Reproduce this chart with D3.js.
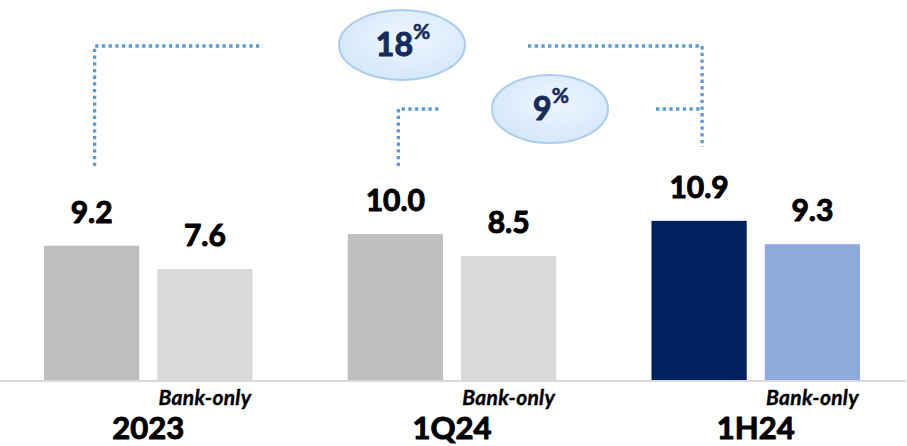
<!DOCTYPE html>
<html>
<head>
<meta charset="utf-8">
<script src="https://cdn.jsdelivr.net/npm/d3@7"></script>
<style>
  html, body { margin: 0; padding: 0; background: #ffffff; }
  svg { display: block; }
  text { font-family: Lato, "Open Sans", sans-serif; }
</style>
</head>
<body>
<svg id="chart" width="907" height="446"></svg>
<script>
// ---- data ----
const categories = ["2023", "1Q24", "1H24"];
const seriesKeys = ["Total", "Bank-only"];
const totalValues = [9.2, 10.0, 10.9];
const bankOnlyValues = [7.6, 8.5, 9.3];
const bankOnlyLabel = "Bank-only";
const growthFromIndex = [0, 1];      // brackets start at these categories
const growthToIndex = [2, 2];        // and end at these
const growthValues = ["18", "9"];
const growthUnit = "%";

// ---- styles ----
const totalColors = ["#BFBFBF", "#BFBFBF", "#002060"];
const bankColors = ["#D9D9D9", "#D9D9D9", "#8FAADC"];
const dotColor = "#5B9BD5";
const navy = "#172C5E";

const W = 907, H = 446;
const baseY = 380;
const svg = d3.select("#chart");

const x0 = d3.scaleBand().domain(categories).range([44, 860]).paddingInner(95 / 303).paddingOuter(0);
const x1 = d3.scaleBand().domain(seriesKeys).range([0, x0.bandwidth()]).paddingInner(18 / 113);
const y = d3.scaleLinear().domain([0, 10]).range([baseY, baseY - 146]);

const rows = categories.map((c, i) => ({
  cat: c, i,
  vals: [
    { key: "Total", v: totalValues[i], color: totalColors[i] },
    { key: "Bank-only", v: bankOnlyValues[i], color: bankColors[i] }
  ]
}));

const heavy = (sel, color, w) => sel.attr("fill", color).attr("stroke", color).attr("stroke-width", w).attr("stroke-linejoin", "round");

// baseline
svg.append("line")
  .attr("x1", 0).attr("x2", 906)
  .attr("y1", baseY + 1).attr("y2", baseY + 1)
  .attr("stroke", "#D9D9D9").attr("stroke-width", 2);

const g = svg.selectAll("g.grp").data(rows).join("g")
  .attr("class", "grp")
  .attr("transform", d => `translate(${x0(d.cat)},0)`);

g.selectAll("rect").data(d => d.vals).join("rect")
  .attr("x", d => x1(d.key))
  .attr("y", d => y(d.v))
  .attr("width", x1.bandwidth())
  .attr("height", d => y(0) - y(d.v))
  .attr("fill", d => d.color);

g.selectAll("text.val").data(d => d.vals).join("text")
  .attr("class", "val")
  .attr("x", d => x1(d.key) + x1.bandwidth() / 2)
  .attr("y", d => y(d.v) - 23)
  .attr("text-anchor", "middle")
  .attr("font-size", 30).attr("font-weight", 700)
  .call(heavy, "#000", 1)
  .text(d => d3.format(".1f")(d.v));

g.append("text")
  .attr("x", x1("Bank-only") + x1.bandwidth() / 2)
  .attr("y", baseY + 25)
  .attr("text-anchor", "middle")
  .attr("font-size", 21).attr("font-weight", 700).attr("font-style", "italic")
  .attr("letter-spacing", 0.3)
  .call(heavy, "#000", 0.4)
  .text(bankOnlyLabel);

g.append("text")
  .attr("x", x0.bandwidth() / 2)
  .attr("y", baseY + 59)
  .attr("text-anchor", "middle")
  .attr("font-size", 31).attr("font-weight", 700)
  .call(heavy, "#000", 1)
  .text(d => d.cat);

// ---- growth brackets ----
const defs = svg.append("defs");
const grad = defs.append("radialGradient").attr("id", "ell").attr("cx", "55%").attr("cy", "40%").attr("r", "65%");
grad.append("stop").attr("offset", "0%").attr("stop-color", "#EEF6FF");
grad.append("stop").attr("offset", "100%").attr("stop-color", "#D3E6FA");

const barCenter = i => x0(categories[i]) + x1("Total") + x1.bandwidth() / 2;
const bracketSpecs = [
  { top: 46, bottoms: [166, 147], cx: 402, cy: 45, rx: 63, ry: 35, gapL: 76, gapR: 63 },
  { top: 109, bottoms: [166, 147], cx: 550, cy: 109, rx: 58, ry: 34, gapL: 51, gapR: 48 }
];

growthValues.forEach((gv, k) => {
  const s = bracketSpecs[k];
  const xa = barCenter(growthFromIndex[k]) + 3;
  const xb = barCenter(growthToIndex[k]) + 3;
  const dot = sel => sel.attr("fill", "none").attr("stroke", dotColor)
    .attr("stroke-width", 3.3).attr("stroke-dasharray", "3.3 3.4");
  svg.append("path").call(dot)
    .attr("d", `M${xa},${s.bottoms[0]}V${s.top}H${s.cx - s.rx - s.gapL}`);
  svg.append("path").call(dot)
    .attr("d", `M${s.cx + s.rx + s.gapR},${s.top}H${xb}` + (k === 0 ? `V${s.bottoms[1]}` : ""));
});

growthValues.forEach((gv, k) => {
  const s = bracketSpecs[k];
  svg.append("ellipse")
    .attr("cx", s.cx).attr("cy", s.cy).attr("rx", s.rx).attr("ry", s.ry)
    .attr("fill", "url(#ell)").attr("stroke", "#A9CDF0").attr("stroke-width", 2);
  const t = svg.append("text")
    .attr("x", s.cx).attr("y", s.cy + 11)
    .attr("text-anchor", "start")
    .attr("font-weight", 700)
    .call(heavy, navy, 1.1);
  t.append("tspan").attr("font-size", 32).text(gv);
  t.append("tspan").attr("font-size", 21).attr("dy", -17).attr("stroke-width", 0.6).text(growthUnit);
  const bb = t.node().getBBox();
  t.attr("x", s.cx + 1 - bb.width / 2);
});
</script>
</body>
</html>
